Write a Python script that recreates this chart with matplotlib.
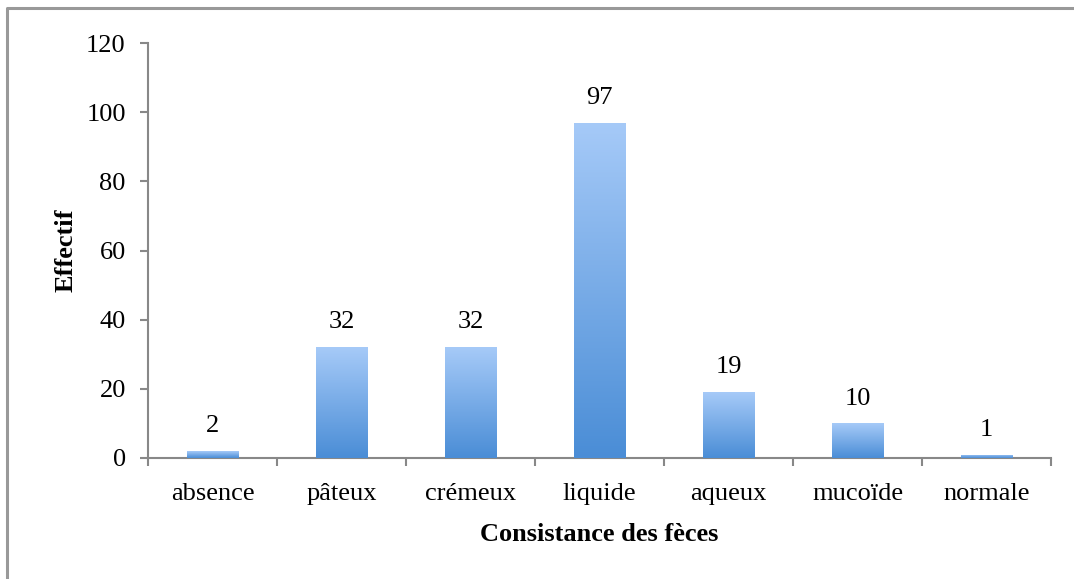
import numpy as np
import matplotlib
matplotlib.use("Agg")
import matplotlib.pyplot as plt
from matplotlib.colors import LinearSegmentedColormap
from matplotlib.lines import Line2D

plt.rcParams['font.family'] = ['Liberation Serif', 'DejaVu Serif']

# données
categories = ["absence", "pâteux", "crémeux", "liquide", "aqueux", "mucoïde", "normale"]
effectifs = [2, 32, 32, 97, 19, 10, 1]
y_ticks = [0, 20, 40, 60, 80, 100, 120]

W, H = 1074, 579
fig = plt.figure(figsize=(W / 100, H / 100), dpi=100)
ax = fig.add_axes([148 / W, 1 - 458 / H, (1051 - 148) / W, (458 - 43) / H])

# cadre extérieur (haut et gauche seulement)
fig.lines.append(Line2D([7 / W, 7 / W, 1.0], [0.0, 1 - 8 / H, 1 - 8 / H], transform=fig.transFigure,
                        color='#999999', linewidth=2.2))

x = np.arange(len(categories))
bars = ax.bar(x, effectifs, width=0.4, color='#79abe8', zorder=2)

# dégradé vertical dans chaque barre
cmap = LinearSegmentedColormap.from_list('grad', ['#4a8dd6', '#a6caf8'])
grad = np.linspace(0, 1, 256).reshape(-1, 1)
for b in bars:
    x0, y0 = b.get_x(), b.get_y()
    w, h = b.get_width(), b.get_height()
    im = ax.imshow(grad, cmap=cmap, origin='lower', aspect='auto',
                   extent=(x0, x0 + w, y0, y0 + h), zorder=3)
    im.set_clip_path(b)

for xi, v in zip(x, effectifs):
    ax.text(xi, v + 4, str(v), ha='center', va='bottom', fontsize=19)

ax.set_xlim(-0.5, len(categories) - 0.5)
ax.set_ylim(0, 120)
ax.set_yticks(y_ticks)
ax.set_xticks(x)
ax.set_xticklabels(categories, fontsize=19)
ax.set_xticks(np.arange(len(categories) + 1) - 0.5, minor=True)
ax.tick_params(axis='x', which='major', length=0, pad=18)
ax.tick_params(axis='x', which='minor', length=6, width=1.5, color='#888888', direction='out')
ax.tick_params(axis='y', length=6, width=1.5, color='#888888', direction='out', labelsize=19, pad=10)

for s in ['top', 'right']:
    ax.spines[s].set_visible(False)
for s in ['left', 'bottom']:
    ax.spines[s].set_color('#888888')
    ax.spines[s].set_linewidth(1.5)

ax.set_xlabel("Consistance des fèces", fontsize=19, fontweight='bold', labelpad=13)
ax.set_ylabel("Effectif", fontsize=19, fontweight='bold', labelpad=6)

fig.savefig("out.png", dpi=100)
